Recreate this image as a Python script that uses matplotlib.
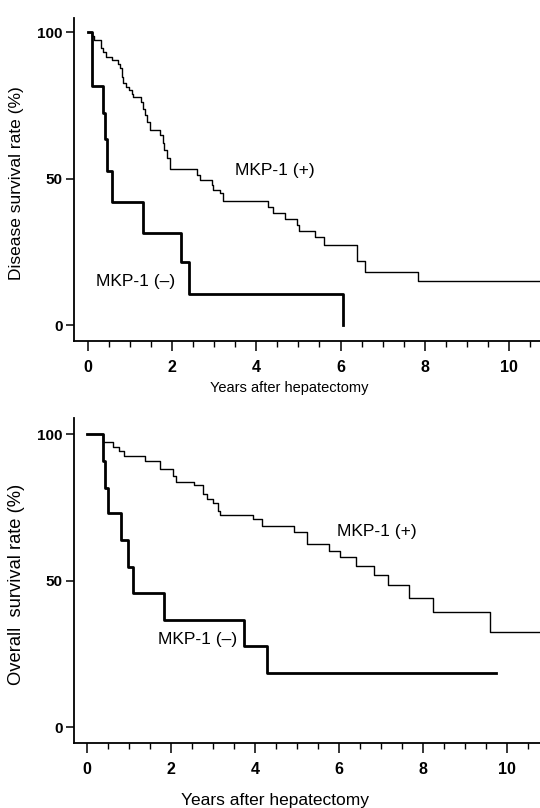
import matplotlib
matplotlib.use("Agg")
import matplotlib.pyplot as plt
from matplotlib.ticker import MultipleLocator

plt.rcParams['font.family'] = ['Liberation Sans', 'DejaVu Sans']

# ---- data (years, survival %) ----
top_pos_t = [0, 0.09, 0.15, 0.31, 0.36, 0.43, 0.56, 0.72, 0.76, 0.80, 0.84, 0.90, 0.98, 1.04,
             1.08, 1.25, 1.30, 1.35, 1.41, 1.47, 1.71, 1.77, 1.81, 1.87, 1.95, 2.58, 2.66, 2.94,
             2.98, 3.14, 3.21, 4.28, 4.40, 4.68, 4.96, 5.01, 5.39, 5.61, 6.38, 6.58, 7.83, 10.8]
top_pos_s = [100, 98.7, 97.2, 94.7, 93.2, 91.5, 90.4, 89.0, 87.6, 84.7, 82.5, 81.3, 80.2, 79.0,
             77.7, 76.2, 73.9, 71.6, 69.4, 66.5, 64.9, 62.0, 59.8, 56.9, 53.2, 51.2, 49.5, 47.8,
             46.1, 45.2, 42.5, 40.4, 38.4, 36.2, 34.2, 32.1, 30.0, 27.4, 21.7, 18.1, 14.9, 14.9]

top_neg_t = [0, 0.09, 0.35, 0.41, 0.46, 0.56, 1.31, 2.20, 2.39, 6.05]
top_neg_s = [100, 81.7, 72.5, 63.4, 52.7, 42.1, 31.3, 21.4, 10.7, 0]

bot_pos_t = [0, 0.39, 0.63, 0.77, 0.87, 1.38, 1.74, 2.06, 2.12, 2.55, 2.77, 2.85, 2.99, 3.13,
             3.17, 3.96, 4.16, 4.94, 5.25, 5.76, 6.03, 6.40, 6.83, 7.17, 7.68, 8.24, 9.60, 10.8]
bot_pos_s = [100, 97.3, 95.7, 94.3, 92.6, 90.9, 88.0, 85.7, 83.8, 82.5, 79.5, 77.7, 76.6, 73.8,
             72.4, 70.9, 68.7, 66.6, 62.4, 60.1, 58.1, 55.1, 52.0, 48.5, 44.0, 39.2, 32.5, 32.5]

bot_neg_t = [0, 0.39, 0.43, 0.49, 0.81, 0.97, 1.10, 1.83, 3.75, 4.28, 9.75]
bot_neg_s = [100, 90.9, 81.7, 73.0, 63.8, 54.7, 45.7, 36.5, 27.5, 18.4, 18.4]

x_ticks = [0, 2, 4, 6, 8, 10]
y_ticks = [0, 50, 100]
pos_label = "MKP-1 (+)"
neg_label = "MKP-1 (\u2013)"
x_title = "Years after hepatectomy"
y_title_top = "Disease survival rate (%)"
y_title_bot = "Overall  survival rate (%)"

W, H = 540, 808
fig = plt.figure(figsize=(W / 100, H / 100), dpi=100)


def px_axes(left, top, right, bottom):
    return fig.add_axes([left / W, 1 - bottom / H, (right - left) / W, (bottom - top) / H])


ax1 = px_axes(74, 18, 540, 341)
ax2 = px_axes(74, 418, 540, 743)

for ax in (ax1, ax2):
    for s in ('top', 'right'):
        ax.spines[s].set_visible(False)
    for s in ('left', 'bottom'):
        ax.spines[s].set_linewidth(1.3)
    ax.set_xticks(x_ticks)
    ax.set_yticks(y_ticks)
    ax.xaxis.set_minor_locator(MultipleLocator(0.5))
    ax.tick_params(axis='x', which='major', direction='out', length=7, width=1.1, pad=7,
                   labelsize=11.5)
    ax.tick_params(axis='x', which='minor', direction='out', length=4, width=1.0)
    ax.tick_params(axis='y', which='major', direction='out', length=6, width=1.1, pad=2,
                   labelsize=11)
    for lab in ax.get_xticklabels() + ax.get_yticklabels():
        lab.set_fontweight('bold')

ax1.set_xlim(-0.333, 10.74)
ax1.set_ylim(-5.46, 104.8)
ax2.set_xlim(-0.31, 10.79)
ax2.set_ylim(-5.46, 105.5)

ax1.plot(top_pos_t, top_pos_s, drawstyle='steps-post', color='black', lw=1.0)
ax1.plot(top_neg_t, top_neg_s, drawstyle='steps-post', color='black', lw=2.0)
ax2.plot(bot_pos_t, bot_pos_s, drawstyle='steps-post', color='black', lw=1.0)
ax2.plot(bot_neg_t, bot_neg_s, drawstyle='steps-post', color='black', lw=2.0)

ax1.text(4.44, 52.6, pos_label, ha='center', va='center', fontsize=12.5)
ax1.text(1.12, 15.0, neg_label, ha='center', va='center', fontsize=12.5)
ax2.text(6.9, 66.6, pos_label, ha='center', va='center', fontsize=12.5)
ax2.text(2.64, 30.0, neg_label, ha='center', va='center', fontsize=12.5)

fig.text(289 / W, 1 - 388 / H, x_title, ha='center', va='center', fontsize=10.5)
fig.text(275 / W, 1 - 801 / H, x_title, ha='center', va='center', fontsize=12.5)
fig.text(17 / W, 1 - 183 / H, y_title_top, ha='center', va='center', rotation=90, fontsize=12.5)
fig.text(17 / W, 1 - 584 / H, y_title_bot, ha='center', va='center', rotation=90, fontsize=13.2)

fig.savefig('out.png', dpi=100)
